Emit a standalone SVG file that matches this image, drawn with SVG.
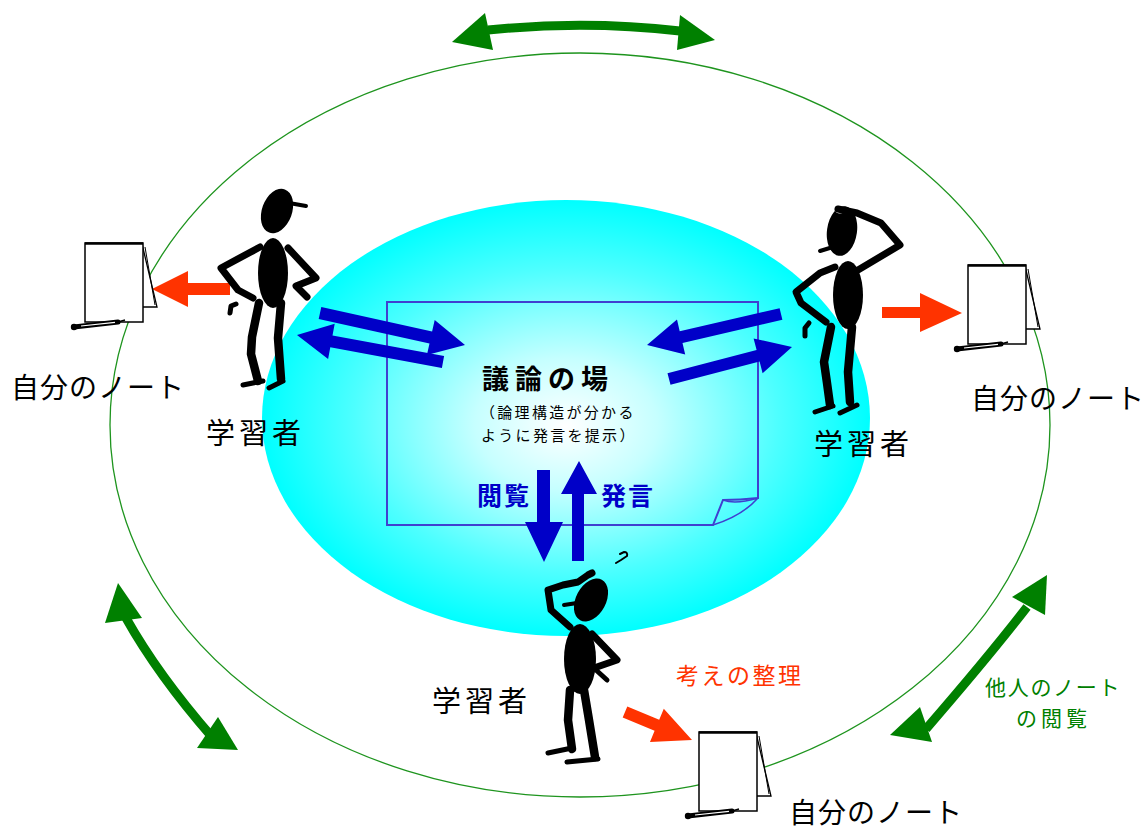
<svg xmlns="http://www.w3.org/2000/svg" width="1147" height="829" viewBox="0 0 1147 829">
  <defs>
    <radialGradient id="forumGlow" cx="0.5" cy="0.5" r="0.5" fx="0.5" fy="0.52">
      <stop offset="0" stop-color="#ffffff"/>
      <stop offset="0.3" stop-color="#c6ffff"/>
      <stop offset="0.7" stop-color="#4dffff"/>
      <stop offset="1" stop-color="#00ffff"/>
    </radialGradient>
    <!-- notepad with a pen, drawn at its own origin (top-left of the page) -->
    <g id="pad">
      <polygon points="57,1 72,64 57,64" fill="#ffffff" stroke="#000" stroke-width="1.3"/>
      <line x1="60" y1="4" x2="70" y2="62" stroke="#000" stroke-width="1"/>
      <rect x="0" y="0" width="58" height="79" fill="#ffffff" stroke="#000" stroke-width="1.5"/>
      <line x1="0" y1="0.5" x2="58" y2="0.5" stroke="#000" stroke-width="2.5"/>
      <line x1="-11" y1="84" x2="33" y2="79" stroke="#000" stroke-width="5" stroke-linecap="round"/>
      <line x1="-4" y1="83" x2="30" y2="79.3" stroke="#fff" stroke-width="1.2"/>
      <line x1="33" y1="79" x2="40" y2="77" stroke="#000" stroke-width="1.5"/>
      <circle cx="-11" cy="84" r="3.2" fill="#000"/>
    </g>
  </defs>
  <style>
    .ring { fill: none; stroke: #1e941e; stroke-width: 1.3; }
    .limb { fill: none; stroke: #000; stroke-width: 8.5; stroke-linecap: round; stroke-linejoin: round; }
    .arm { fill: none; stroke: #000; stroke-width: 7; stroke-linecap: round; stroke-linejoin: round; }
    .thin { fill: none; stroke: #000; stroke-width: 5; stroke-linecap: round; stroke-linejoin: round; }
    .body { fill: #000; }
    .blue { fill: #0000c8; }
    .red { fill: #ff3300; }
    .green { fill: #008000; }
    .gshaft { fill: none; stroke: #008000; stroke-width: 9; }
    .jp { font-family: "Noto Sans CJK JP", "Noto Sans CJK SC", sans-serif; }
    .lbl { font-size: 28px; fill: #000; letter-spacing: 1px; }
    .who { font-size: 29px; fill: #000; letter-spacing: 4px; }
  </style>

  <rect width="1147" height="829" fill="#ffffff"/>

  <!-- outer circle of learners -->
  <ellipse class="ring" cx="580" cy="425" rx="470" ry="372"/>

  <!-- shared discussion space -->
  <g id="forum">
    <ellipse cx="566" cy="418" rx="304" ry="218" fill="url(#forumGlow)"/>
    <path d="M387 302 H758 V498 Q740 500 723 500 L713 525 H387 Z" fill="none" stroke="#4040d0" stroke-width="2"/>
    <path d="M758 498 Q735 505 723 500 M713 525 Q742 516 758 498" fill="none" stroke="#4040d0" stroke-width="1.5"/>
    <text class="jp" x="482" y="389" font-size="27" font-weight="bold" letter-spacing="6" fill="#000">議論の場</text>
    <text class="jp" x="480" y="418" font-size="15" letter-spacing="2.3" fill="#000">（論理構造が分かる</text>
    <text class="jp" x="481" y="441" font-size="15" letter-spacing="2.3" fill="#000">ように発言を提示）</text>
    <text class="jp" x="477" y="505" font-size="25" font-weight="bold" letter-spacing="2" fill="#0000c8">閲覧</text>
    <text class="jp" x="601" y="505" font-size="25" font-weight="bold" letter-spacing="2" fill="#0000c8">発言</text>
  </g>

  <g id="connectors">
    <!-- exchange with the forum -->
    <polygon class="blue" points="321.3,307.1 432.1,331.6 434.7,319.9 465,345 426.9,355.1 429.5,343.4 318.7,318.9"/>
    <polygon class="blue" points="297,335 334.7,323.7 332.5,335.5 444.1,356.1 441.9,367.9 330.3,347.3 328.1,359.1"/>
    <polygon class="blue" points="647,345 677,319.6 679.7,331.3 779.6,308.2 782.4,319.8 682.5,342.9 685.2,354.6"/>
    <polygon class="blue" points="667.5,373.2 756.6,350 753.6,338.4 792,347 762.6,373.2 759.6,361.6 670.5,384.8"/>
    <polygon class="blue" points="537,470 550,470 550,522 563,522 544,562 525,522 537,522"/>
    <polygon class="blue" points="579,461 597,494 584,494 584,561 572,561 572,494 561,494"/>

    <!-- writing into one's own notes -->
    <polygon class="red" points="230,283 230,295 188,295 188,307 152,289 188,271 188,283"/>
    <polygon class="red" points="882,307 920,307 920,293 962,313 920,332 920,318 882,318"/>
    <polygon class="red" points="627.3,706.5 659.2,719.8 663.8,708.7 692,740 650,741.9 654.6,730.8 622.7,717.5"/>

    <!-- browsing other learners' notes -->
    <path class="gshaft" d="M488 30 Q585 20 680 31"/>
    <polygon class="green" points="452,42 485,13 493,50"/>
    <polygon class="green" points="715,40 680,15 677,50"/>

    <path class="gshaft" d="M126 618 Q158 675 212 737"/>
    <polygon class="green" points="118,583 105,623 142,618"/>
    <polygon class="green" points="238,750 218,717 197,748"/>

    <path class="gshaft" d="M1027 607 Q990 655 926 729"/>
    <polygon class="green" points="1047,575 1012,597 1045,615"/>
    <polygon class="green" points="890,735 920,707 932,742"/>
  </g>

  <g id="learner-left">
    <ellipse class="body" cx="277" cy="211" rx="15" ry="23" transform="rotate(20 277 211)"/>
    <line x1="289" y1="203" x2="306" y2="206" stroke="#000" stroke-width="4" stroke-linecap="round"/>
    <ellipse class="body" cx="273" cy="273" rx="15" ry="35"/>
    <polyline class="arm" points="260,247 221,268 238,290 253,298"/>
    <polyline class="thin" points="236,304 231,306 230,313"/>
    <polyline class="arm" points="288,248 316,278 296,286 307,297"/>
    <polyline class="limb" points="259,303 252,337 251,354 258,381"/>
    <polyline class="thin" points="243,385 263,381"/>
    <polyline class="limb" points="281,303 278,338 281,379"/>
    <polyline class="thin" points="269,388 283,381"/>
  </g>

  <g id="learner-right">
    <ellipse class="body" cx="842" cy="231" rx="15" ry="25" transform="rotate(8 842 231)"/>
    <line x1="820" y1="251" x2="833" y2="247" stroke="#000" stroke-width="4" stroke-linecap="round"/>
    <ellipse cx="840" cy="210" rx="5" ry="3.5" fill="#fff"/>
    <ellipse class="body" cx="848" cy="295" rx="15" ry="34"/>
    <polyline class="arm" points="858,270 900,245 881,223 857,213 838,209"/>
    <polyline class="arm" points="835,267 820,273 796,292 801,303 826,322"/>
    <polyline class="thin" points="809,323 805,328 805,336"/>
    <polyline class="limb" points="831,327 824,362 827,383 830,405"/>
    <polyline class="thin" points="815,412 833,406"/>
    <polyline class="limb" points="852,327 848,372 850,402"/>
    <polyline class="thin" points="840,413 857,405"/>
  </g>

  <g id="learner-bottom">
    <ellipse class="body" cx="591" cy="600" rx="15" ry="23" transform="rotate(28 591 600)"/>
    <line x1="564" y1="605" x2="577" y2="603" stroke="#000" stroke-width="4" stroke-linecap="round"/>
    <ellipse class="body" cx="580" cy="659" rx="16" ry="35"/>
    <polyline class="arm" points="570,627 551,610 548,590 563,585 578,582 588,575 592,573"/>
    <polyline class="arm" points="592,634 617,660 594,668"/>
    <polyline class="thin" points="596,670 607,680"/>
    <polyline class="limb" points="570,690 568,720 572,749"/>
    <polyline class="thin" points="548,753 572,748"/>
    <polyline class="limb" points="584,690 589,720 595,757"/>
    <polyline class="thin" points="567,762 598,759"/>
    <path d="M616 563 L621 560 L627 556 Q628 552 624 552 L620 554" fill="none" stroke="#000" stroke-width="2" stroke-linecap="round"/>
  </g>

  <g id="note-left">
    <use href="#pad" x="85" y="243"/>
  </g>
  <g id="note-right">
    <use href="#pad" x="968" y="265"/>
  </g>
  <g id="note-bottom">
    <use href="#pad" x="699" y="732"/>
  </g>

  <g id="labels">
    <text class="jp lbl" x="11" y="398">自分のノート</text>
    <text class="jp lbl" x="971" y="409">自分のノート</text>
    <text class="jp lbl" x="789" y="823">自分のノート</text>
    <text class="jp who" x="206" y="444">学習者</text>
    <text class="jp who" x="814" y="455">学習者</text>
    <text class="jp who" x="432" y="712">学習者</text>
    <text class="jp" x="676" y="684" font-size="23" letter-spacing="2.5" fill="#ff3300">考えの整理</text>
    <text class="jp" x="985" y="695" font-size="21" letter-spacing="1.7" fill="#008000">他人のノート</text>
    <text class="jp" x="1016" y="726" font-size="21" letter-spacing="4" fill="#008000">の閲覧</text>
  </g>
</svg>
